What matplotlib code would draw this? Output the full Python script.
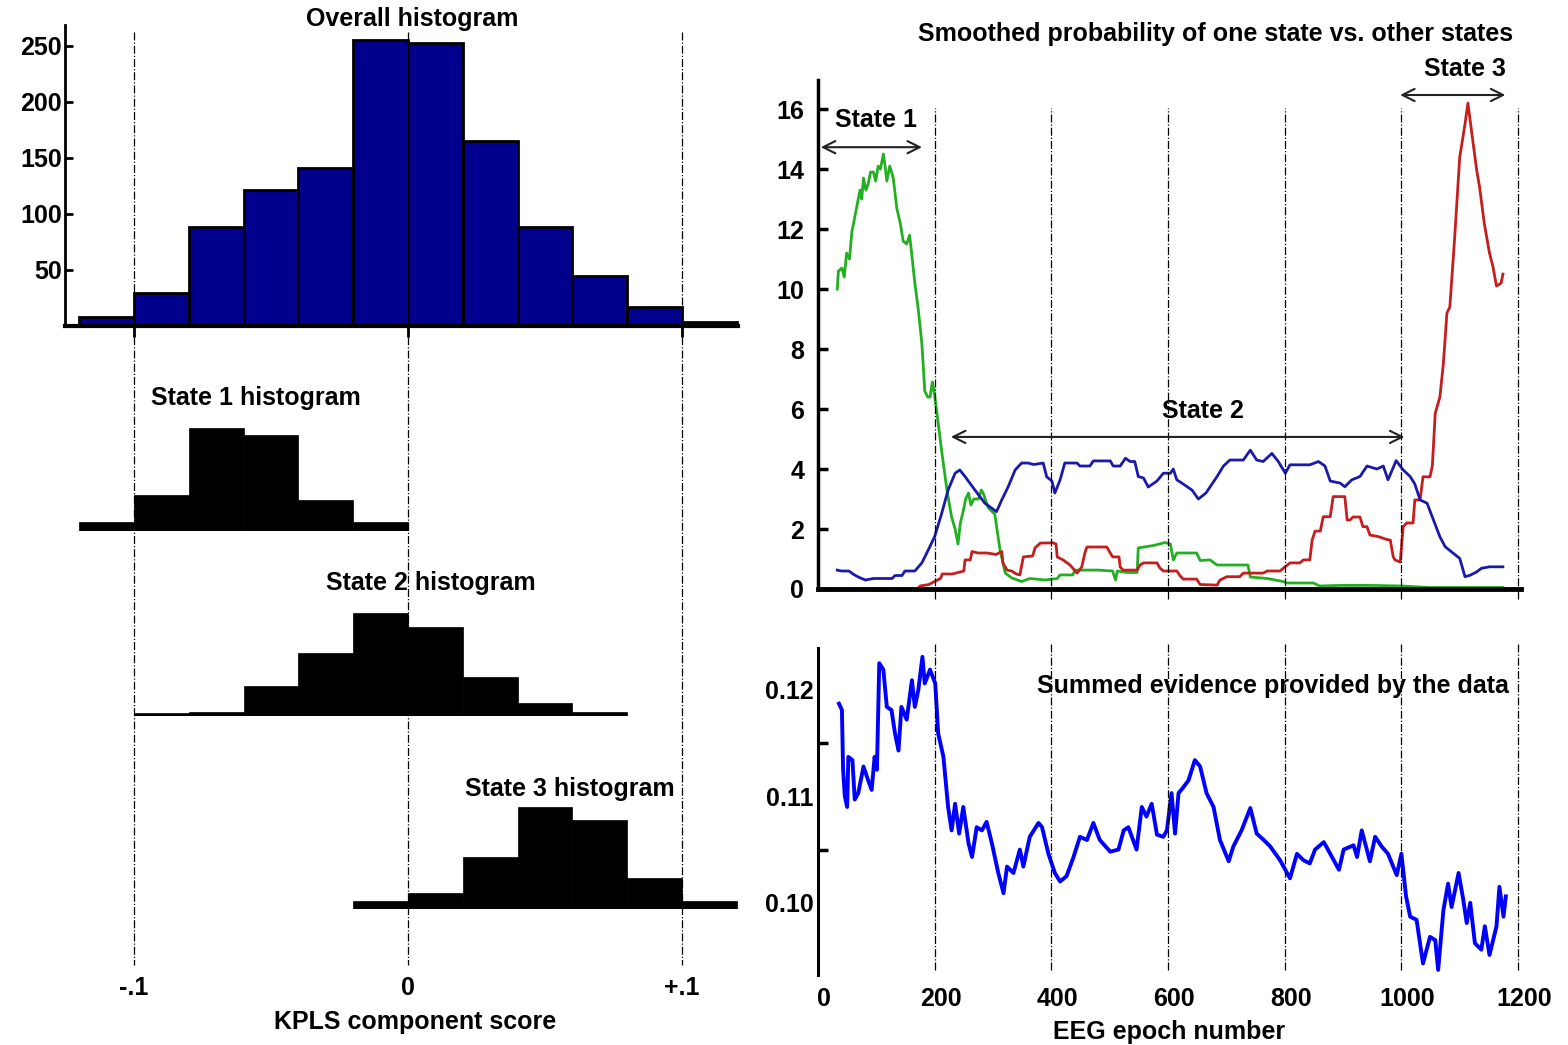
import numpy as np
import matplotlib
matplotlib.use('Agg')
import matplotlib.pyplot as plt
from matplotlib.transforms import ScaledTranslation

plt.rcParams['font.family'] = ['Liberation Sans', 'DejaVu Sans']
plt.rcParams['font.weight'] = 'bold'
plt.rcParams['axes.labelweight'] = 'bold'
plt.rcParams['font.size'] = 18

# ---------------- data: left column (KPLS component score histograms) ----------------
bin_width = 0.02
overall_start = -0.12
overall_counts = [8, 29, 88, 121, 141, 255, 252, 165, 88, 45, 17, 4]
state1_start = -0.12
state1_freq = [8, 32, 92, 86, 28, 8]
state2_start = -0.10
state2_freq = [3, 4, 27, 56, 92, 79, 35, 12, 4]
state3_start = -0.02
state3_freq = [7, 14, 46, 91, 79, 28, 7]
score_ticks = [-0.1, 0.0, 0.1]
score_ticklabels = ['-.1', '0', '+.1']
overall_yticks = [50, 100, 150, 200, 250]

# ---------------- data: right column (EEG epoch series) ----------------
epoch_ticks = [0, 200, 400, 600, 800, 1000, 1200]
prob_yticks = [0, 2, 4, 6, 8, 10, 12, 14, 16]
evidence_yticks = [0.10, 0.11, 0.12]
evidence_yticklabels = ['0.10', '0.11', '0.12']
evidence_minor_ticks = [0.105, 0.115]

state1_prob = [(33, 10.0), (35, 10.6), (41, 10.7), (45, 10.4), (49, 11.2), (54, 11.0), (58, 11.9),
               (63, 12.4), (68, 12.9), (72, 13.3), (75, 13.0), (78, 13.7), (82, 13.3), (86, 13.5),
               (90, 13.9), (95, 13.9), (99, 13.6), (103, 14.1), (107, 14.0), (112, 14.5), (115, 14.1),
               (118, 13.6), (123, 14.1), (126, 13.9), (129, 13.7), (135, 12.7), (141, 12.2),
               (146, 11.6), (152, 11.5), (157, 11.8), (161, 11.1), (166, 10.2), (172, 9.3), (178, 8.2),
               (183, 6.6), (188, 6.4), (192, 6.4), (196, 6.9), (198, 6.7), (203, 6.0), (212, 4.6),
               (221, 3.3), (229, 2.4), (235, 2.0), (240, 1.5), (244, 2.2), (249, 2.6), (253, 3.0),
               (258, 3.2), (262, 2.8), (267, 3.0), (275, 3.0), (280, 3.3), (283, 3.2), (292, 2.7),
               (303, 2.5), (312, 1.3), (321, 0.53), (332, 0.37), (349, 0.25), (363, 0.35), (390, 0.3),
               (410, 0.35), (415, 0.47), (437, 0.47), (440, 0.63), (480, 0.63), (505, 0.6), (510, 0.3),
               (513, 0.6), (530, 0.55), (547, 0.55), (549, 1.37), (575, 1.45), (595, 1.55), (604, 1.5),
               (609, 0.97), (615, 1.2), (649, 1.2), (655, 0.95), (672, 0.97), (684, 0.8), (711, 0.8),
               (737, 0.8), (741, 0.4), (770, 0.35), (797, 0.25), (804, 0.2), (849, 0.2), (860, 0.1),
               (895, 0.12), (950, 0.12), (1000, 0.1), (1050, 0.05), (1100, 0.05), (1174, 0.05)]

state2_prob = [(33, 0.63), (40, 0.6), (53, 0.6), (60, 0.5), (69, 0.4), (81, 0.3), (95, 0.35), (110, 0.35),
               (127, 0.35), (132, 0.45), (144, 0.45), (149, 0.6), (166, 0.6), (178, 0.87), (189, 1.3),
               (200, 1.75), (212, 2.52), (223, 3.3), (235, 3.86), (243, 3.97), (252, 3.75), (269, 3.3),
               (286, 2.86), (306, 2.58), (315, 2.97), (326, 3.41), (338, 3.97), (349, 4.2), (360, 4.2),
               (370, 4.15), (386, 4.2), (392, 3.74), (401, 3.6), (406, 3.2), (415, 3.64), (423, 4.2),
               (444, 4.2), (449, 4.1), (466, 4.1), (472, 4.27), (501, 4.27), (506, 4.1), (518, 4.1),
               (527, 4.36), (535, 4.25), (543, 4.25), (549, 3.75), (558, 3.7), (566, 3.4), (581, 3.6),
               (592, 3.86), (604, 3.86), (609, 4.0), (615, 3.64), (626, 3.5), (641, 3.3), (652, 3.0),
               (665, 3.2), (684, 3.75), (695, 4.1), (706, 4.3), (729, 4.3), (741, 4.63), (752, 4.3),
               (763, 4.25), (778, 4.52), (789, 4.25), (801, 3.86), (809, 4.14), (843, 4.14), (858, 4.25),
               (869, 4.1), (878, 3.6), (895, 3.53), (903, 3.41), (915, 3.64), (929, 3.75), (941, 4.1),
               (958, 4.0), (969, 4.1), (977, 3.64), (991, 4.28), (1003, 3.97), (1015, 3.75), (1023, 3.5),
               (1032, 2.97), (1044, 2.86), (1055, 2.3), (1066, 1.74), (1075, 1.41), (1089, 1.19),
               (1100, 1.02), (1109, 0.41), (1118, 0.46), (1129, 0.57), (1137, 0.69), (1151, 0.74),
               (1174, 0.74)]

state3_prob = [(33, 0.0), (100, 0.0), (170, 0.0), (175, 0.1), (190, 0.15), (200, 0.25), (210, 0.35),
               (213, 0.5), (230, 0.5), (240, 0.55), (250, 0.6), (252, 0.97), (261, 0.97), (264, 1.25),
               (274, 1.2), (290, 1.2), (305, 1.15), (315, 1.25), (317, 0.87), (324, 0.63), (332, 0.6),
               (340, 0.5), (346, 0.47), (352, 1.07), (368, 1.1), (372, 1.37), (381, 1.53), (403, 1.54),
               (408, 1.5), (410, 1.07), (420, 0.97), (432, 0.8), (444, 0.53), (452, 0.73), (458, 1.24),
               (461, 1.4), (495, 1.4), (501, 1.2), (505, 1.07), (516, 1.07), (518, 0.73), (523, 0.63),
               (547, 0.63), (552, 0.8), (558, 0.87), (581, 0.87), (586, 0.7), (592, 0.6), (615, 0.6),
               (621, 0.43), (626, 0.33), (649, 0.33), (655, 0.15), (684, 0.13), (689, 0.3), (701, 0.41),
               (723, 0.41), (729, 0.53), (763, 0.53), (770, 0.6), (792, 0.6), (798, 0.7), (809, 0.87),
               (826, 0.87), (832, 0.97), (843, 0.97), (847, 1.63), (852, 1.93), (861, 1.93), (866, 2.41),
               (878, 2.41), (883, 3.08), (903, 3.08), (907, 2.3), (912, 2.3), (917, 2.4), (929, 2.4),
               (934, 2.08), (941, 2.08), (946, 1.8), (960, 1.75), (975, 1.65), (981, 1.63), (986, 1.07),
               (989, 0.97), (998, 0.9), (1003, 2.08), (1009, 2.2), (1020, 2.2), (1023, 2.97), (1032, 2.97),
               (1037, 3.74), (1049, 3.74), (1053, 4.1), (1058, 5.86), (1066, 6.4), (1072, 7.53),
               (1078, 9.2), (1083, 9.4), (1091, 11.63), (1100, 14.4), (1109, 15.5), (1114, 16.2),
               (1120, 15.3), (1129, 13.97), (1134, 13.4), (1142, 12.2), (1151, 11.2), (1157, 10.74),
               (1163, 10.1), (1171, 10.2), (1174, 10.5)]

summed_evidence = [(36, 0.1187), (41, 0.1181), (43, 0.1125), (46, 0.1100), (50, 0.1090), (52, 0.1137),
                   (59, 0.1134), (63, 0.1097), (69, 0.1103), (78, 0.1128), (86, 0.1115), (92, 0.1106),
                   (97, 0.1137), (101, 0.1125), (105, 0.1225), (112, 0.1219), (118, 0.1184), (126, 0.1181),
                   (132, 0.1159), (138, 0.1143), (143, 0.1184), (152, 0.1172), (161, 0.1209), (166, 0.1184),
                   (172, 0.1200), (179, 0.1231), (183, 0.1206), (192, 0.1219), (201, 0.1206), (206, 0.1159),
                   (215, 0.1137), (223, 0.1090), (229, 0.1068), (235, 0.1093), (242, 0.1065), (249, 0.1090),
                   (258, 0.1056), (264, 0.1043), (272, 0.1071), (281, 0.1068), (289, 0.1076), (298, 0.1056),
                   (309, 0.1028), (318, 0.1009), (324, 0.1034), (335, 0.1028), (346, 0.1050), (352, 0.1034),
                   (363, 0.1062), (378, 0.1075), (384, 0.1071), (395, 0.1046), (406, 0.1028), (415, 0.1020),
                   (426, 0.1025), (438, 0.1043), (449, 0.1062), (461, 0.1059), (472, 0.1075), (483, 0.1059),
                   (501, 0.1048), (515, 0.1050), (524, 0.1068), (532, 0.1071), (546, 0.1050), (555, 0.1090),
                   (563, 0.1081), (572, 0.1093), (581, 0.1064), (592, 0.1062), (598, 0.1068), (606, 0.1103),
                   (612, 0.1065), (618, 0.1103), (627, 0.1109), (635, 0.1115), (646, 0.1134), (655, 0.1128),
                   (666, 0.1103), (678, 0.1090), (689, 0.1059), (704, 0.1039), (712, 0.1053), (726, 0.1068),
                   (741, 0.1089), (752, 0.1065), (764, 0.1059), (775, 0.1053), (792, 0.1040), (809, 0.1023),
                   (821, 0.1046), (832, 0.1040), (843, 0.1037), (852, 0.1050), (867, 0.1057), (878, 0.1046),
                   (893, 0.1031), (901, 0.1050), (918, 0.1054), (924, 0.1043), (932, 0.1068), (946, 0.1039),
                   (955, 0.1062), (966, 0.1053), (977, 0.1046), (992, 0.1026), (1000, 0.1046), (1008, 0.1006),
                   (1015, 0.0987), (1026, 0.0984), (1037, 0.0943), (1049, 0.0968), (1058, 0.0965),
                   (1063, 0.0937), (1072, 0.0993), (1080, 0.1018), (1086, 0.0996), (1098, 0.1028),
                   (1106, 0.1003), (1112, 0.0981), (1118, 0.1000), (1126, 0.0962), (1137, 0.0956),
                   (1143, 0.0978), (1151, 0.0951), (1163, 0.0978), (1168, 0.1015), (1175, 0.0987),
                   (1179, 0.1006)]

# ---------------- layout helpers ----------------
W, H = 1568, 1045
fig = plt.figure(figsize=(W / 100, H / 100), dpi=100)


def box(l, t, r, b):
    return [l / W, 1 - b / H, (r - l) / W, (b - t) / H]


XL = (-0.127, 0.1285)

# overlay for the left column (reference lines, labels)
ov = fig.add_axes(box(60, 0, 760, H))
ov.set_xlim(XL)
ov.set_ylim(H, 0)
ov.axis('off')
for t in score_ticks:
    ov.plot([t, t], [32, 965], ls='-.', color='black', lw=0.9)
for t, lab in zip(score_ticks, score_ticklabels):
    ov.text(t, 988, lab, ha='center', va='center')
ov.text(0.0026, 1022, 'KPLS component score', ha='center', va='center')
ov.text(0.0015, 19, 'Overall histogram', ha='center', va='center')
ov.text(-0.0555, 398, 'State 1 histogram', ha='center', va='center')
ov.text(0.0084, 583, 'State 2 histogram', ha='center', va='center')
ov.text(0.0591, 789, 'State 3 histogram', ha='center', va='center')

# overall histogram
ax0 = fig.add_axes(box(60, 25, 760, 326))
ax0.patch.set_visible(False)
ax0.set_xlim(XL)
ax0.set_ylim(0, 268.4)
edges0 = overall_start + bin_width * np.arange(len(overall_counts))
ax0.bar(edges0, overall_counts, width=bin_width, align='edge', color='#00008c',
        edgecolor='black', linewidth=2)
ax0.spines[['top', 'right']].set_visible(False)
ax0.spines['left'].set_position(('data', -0.1252))
ax0.spines['left'].set_linewidth(2)
ax0.spines['bottom'].set_bounds(-0.1252, 0.1204)
ax0.spines['bottom'].set_linewidth(3)
ax0.set_yticks(overall_yticks)
ax0.tick_params(axis='y', direction='in', length=6, width=2, pad=2)
ax0.set_xticks(score_ticks)
ax0.set_xticklabels([])
ax0.tick_params(axis='x', direction='out', length=8, width=2)

# state histograms
for start, freq, base in [(state1_start, state1_freq, 531),
                          (state2_start, state2_freq, 716),
                          (state3_start, state3_freq, 909)]:
    ax = fig.add_axes(box(60, base - 120, 760, base))
    ax.set_xlim(XL)
    ax.set_ylim(0, 120 / 1.1215)
    edges = start + bin_width * np.arange(len(freq))
    ax.bar(edges, freq, width=bin_width, align='edge', color='black',
           edgecolor='black', linewidth=0.5)
    ax.axis('off')

# ---------------- right top: smoothed probabilities ----------------
ax1 = fig.add_axes(box(818, 80, 1521, 589))
ax1.patch.set_visible(False)
ax1.set_xlim(0, 1205)
ax1.set_ylim(0, 16.97)
g = np.array(state1_prob).T
b = np.array(state2_prob).T
r = np.array(state3_prob).T
ax1.plot(g[0], g[1], color='#22b022', lw=2.0)
ax1.plot(r[0], r[1], color='#c41e1e', lw=2.0)
ax1.plot(b[0], b[1], color='#1a1aaa', lw=2.0)
for t in epoch_ticks[1:]:
    ax1.axvline(t, ymin=-0.02, ymax=0.945, ls='-.', color='black', lw=0.9, clip_on=False)
ax1.spines[['top', 'right']].set_visible(False)
ax1.spines['left'].set_linewidth(2.5)
ax1.spines['bottom'].set_linewidth(3.5)
ax1.set_yticks(prob_yticks)
ax1.tick_params(axis='y', direction='in', length=7, width=2.5, pad=10)
ax1.set_xticks([])

arrow = dict(arrowstyle='<->', lw=1.5, color='#222222', mutation_scale=22)
ax1.annotate('', xy=(183, 14.73), xytext=(0, 14.73), arrowprops=arrow, annotation_clip=False)
ax1.annotate('', xy=(1010, 5.07), xytext=(223, 5.07), arrowprops=arrow, annotation_clip=False)
ax1.annotate('', xy=(1183, 16.47), xytext=(993, 16.47), arrowprops=arrow, annotation_clip=False)
ax1.text(99, 15.63, 'State 1', ha='center', va='center')
ax1.text(660, 5.93, 'State 2', ha='center', va='center')
ax1.text(1109, 17.33, 'State 3', ha='center', va='center', clip_on=False)
fig.text(1215.5 / W, 1 - 34 / H, 'Smoothed probability of one state vs. other states',
         ha='center', va='center')

# ---------------- right bottom: summed evidence ----------------
ax2 = fig.add_axes(box(818, 648, 1521, 975))
ax2.patch.set_visible(False)
ax2.set_xlim(0, 1205)
ax2.set_ylim(0.09322, 0.12393)
e = np.array(summed_evidence).T
ax2.plot(e[0], e[1], color='#0000ff', lw=2.8)
for t in epoch_ticks[1:]:
    ax2.axvline(t, ymin=0.015, ymax=1.015, ls='-.', color='black', lw=0.9, clip_on=False)
ax2.spines[['top', 'right', 'bottom']].set_visible(False)
ax2.spines['left'].set_linewidth(2.2)
ax2.set_yticks(evidence_yticks)
ax2.set_yticklabels(evidence_yticklabels)
ax2.set_yticks(evidence_minor_ticks, minor=True)
ax2.tick_params(axis='y', which='major', length=0, pad=3)
ax2.tick_params(axis='y', which='minor', direction='in', length=7, width=2.5)
ax2.set_xticks(epoch_ticks)
ax2.tick_params(axis='x', length=0, pad=9)
shift = ScaledTranslation(6 / 100, 0, fig.dpi_scale_trans)
for lab in ax2.get_xticklabels():
    lab.set_transform(lab.get_transform() + shift)
ax2.set_xlabel('EEG epoch number', labelpad=6, fontweight='bold')
ax2.text(780, 0.12036, 'Summed evidence provided by the data', ha='center', va='center')

fig.savefig('out.png', dpi=100)
